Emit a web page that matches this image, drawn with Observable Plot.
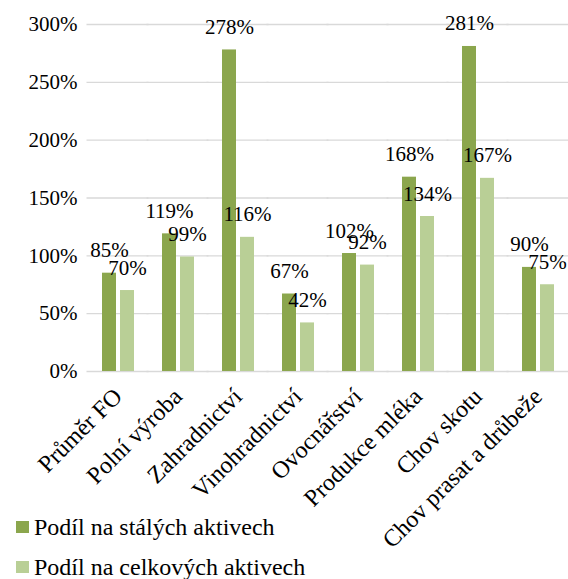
<!DOCTYPE html>
<html><head><meta charset="utf-8">
<script src="https://cdn.jsdelivr.net/npm/d3@7"></script>
<script src="https://cdn.jsdelivr.net/npm/@observablehq/plot@0.6"></script>
<style>
body{margin:0;background:#fff;}
#wrap{position:relative;width:568px;height:579px;overflow:hidden;}
.legend{position:absolute;left:16px;font-family:"Liberation Serif","Times New Roman",serif;font-size:24px;line-height:28px;display:flex;align-items:center;color:#000;white-space:nowrap;}
.sw{width:13px;height:12px;margin-right:5px;}
</style></head><body><div id="wrap"></div>
<script>
const categories = ["Průměr FO","Polní výroba","Zahradnictví","Vinohradnictví","Ovocnářství","Produkce mléka","Chov skotu","Chov prasat a drůbeže"];
const series = ["Podíl na stálých aktivech","Podíl na celkových aktivech"];
const stale = [85,119,278,67,102,168,281,90];
const celkove = [70,99,116,42,92,134,167,75];
const yTicks = [0,50,100,150,200,250,300];
const colors = ["#8BA64D","#B9CF96"];
const data = categories.flatMap((c,i)=>[{cat:c,ser:series[0],v:stale[i]},{cat:c,ser:series[1],v:celkove[i]}]);
const chart = Plot.plot({
  width:568, height:579, marginLeft:86, marginRight:0, marginTop:24, marginBottom:208,
  style:{fontFamily:"'Liberation Serif', 'Times New Roman', serif", fontSize:"21px", color:"#000", background:"#fff", overflow:"visible"},
  fx:{domain:categories, paddingInner:0.454, paddingOuter:0.227, label:null},
  x:{domain:series, axis:null, paddingInner:0.243, paddingOuter:0},
  y:{domain:[0,300], ticks:yTicks, tickFormat:d=>d+"%", label:null, tickSize:0, tickPadding:24},
  color:{domain:series, range:colors},
  marks:[
    Plot.ruleY(yTicks,{stroke:"#d9d9d9", strokeWidth:1.4, insetLeft:-14.5, insetRight:-14.5}),
    Plot.barY(data,{fx:"cat", x:"ser", y:"v", fill:"ser"}),
    Plot.text(data,{fx:"cat", x:"ser", y:"v", text:d=>d.v+"%", dy:-16, lineAnchor:"bottom", fontSize:21, fill:"#000"}),
    Plot.axisFx({anchor:"bottom", tickRotate:-45, tickSize:0, tickPadding:21, fontSize:24, label:null})
  ]
});
const wrap = document.getElementById("wrap");
wrap.appendChild(chart);
series.forEach((s,i)=>{
  const d = document.createElement("div");
  d.className="legend";
  d.style.top = (513 + i*40) + "px";
  d.innerHTML = `<span class="sw" style="background:${colors[i]}"></span><span>${s}</span>`;
  wrap.appendChild(d);
});
</script></body></html>
